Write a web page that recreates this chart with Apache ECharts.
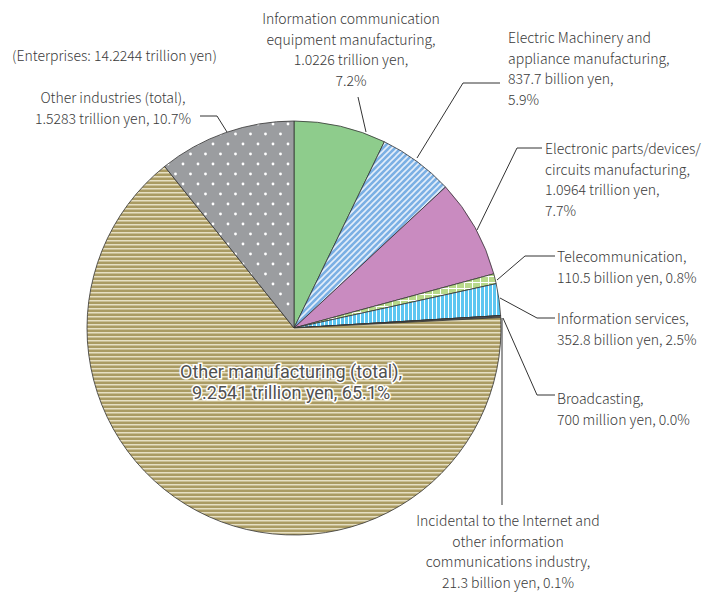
<!DOCTYPE html>
<html><head><meta charset="utf-8">
<script src="https://cdn.jsdelivr.net/npm/echarts@6/dist/echarts.min.js"></script>
<style>html,body{margin:0;padding:0;background:#fff}#c{width:707px;height:594px}</style>
</head><body><div id="c"></div>
<script>
// ---- data (billion yen) ----
const categories = [
  'Information communication equipment manufacturing',
  'Electric Machinery and appliance manufacturing',
  'Electronic parts/devices/circuits manufacturing',
  'Telecommunication',
  'Information services',
  'Broadcasting',
  'Incidental to the Internet and other information communications industry',
  'Other manufacturing (total)',
  'Other industries (total)'
];
const values = [1022.6, 837.7, 1096.4, 110.5, 352.8, 0.7, 21.3, 9254.1, 1528.3];
const labelTexts = [
  'Information communication\nequipment manufacturing,\n1.0226 trillion yen,\n7.2%',
  'Electric Machinery and\nappliance manufacturing,\n837.7 billion yen,\n5.9%',
  'Electronic parts/devices/\ncircuits manufacturing,\n1.0964 trillion yen,\n7.7%',
  'Telecommunication,\n110.5 billion yen, 0.8%',
  'Information services,\n352.8 billion yen, 2.5%',
  'Broadcasting,\n700 million yen, 0.0%',
  'Incidental to the Internet and\nother information\ncommunications industry,\n21.3 billion yen, 0.1%',
  'Other manufacturing (total),\n9.2541 trillion yen, 65.1%',
  'Other industries (total),\n1.5283 trillion yen, 10.7%'
];
const totalText = '(Enterprises: 14.2244 trillion yen)';

// ---- layout / style ----
const FONT = '"Noto Sans CJK JP", "Noto Sans", sans-serif';
const labelPos = [
  [351, 8, 'center'], [508, 27, 'left'], [545, 138, 'left'], [557, 246, 'left'],
  [557, 308, 'left'], [557, 388, 'left'], [508, 510, 'center'], [291, 361, 'center'], [113, 87, 'center']
];
const leaders = [
  [[358,97],[366,132]],
  [[500,83],[463,83],[417,158]],
  [[542,148],[517,148],[477,230]],
  [[555,256],[525,256],[497,280]],
  [[500,298],[537,318],[555,318]],
  [[503,318],[537,395],[555,395]],
  [[502,318],[502,505]],
  [[200,116],[217,116],[227,132]]
];

function pat(w, h, bg, draw) {
  const c = document.createElement('canvas');
  c.width = w; c.height = h;
  const g = c.getContext('2d');
  g.fillStyle = bg; g.fillRect(0, 0, w, h);
  draw(g);
  return { image: c.toDataURL(), repeat: 'repeat', imageWidth: w, imageHeight: h };
}
const fills = [
  '#8ECC8C',
  pat(6, 6, '#7BB0E4', g => { g.strokeStyle = '#E4EEFA'; g.lineWidth = 1.6; g.beginPath(); g.moveTo(-1,7); g.lineTo(7,-1); g.moveTo(-1,1); g.lineTo(1,-1); g.moveTo(5,7); g.lineTo(7,5); g.stroke(); }),
  '#C98BC0',
  pat(8, 6, '#B8D98B', g => { g.fillStyle = '#fff'; g.fillRect(0,0,8,1); g.fillRect(0,0,1,6); }),
  pat(4, 4, '#5DC6F1', g => { g.fillStyle = '#fff'; g.fillRect(0,0,1,4); }),
  '#333333',
  '#555555',
  pat(4, 4, '#AA9B63', g => { g.fillStyle = '#E6DFC3'; g.fillRect(0,0,4,1.5); }),
  pat(15, 20, '#9B9DA0', g => { g.fillStyle = '#fff'; g.beginPath(); g.arc(3,4,1.4,0,7); g.fill(); g.beginPath(); g.arc(10.5,14,1.4,0,7); g.fill(); })
];

const chart = echarts.init(document.getElementById('c'), null, { renderer: 'svg' });
chart.setOption({
  animation: false,
  graphic: [
    { type: 'text', left: 12, top: 48, style: { text: totalText, font: '300 14px ' + FONT, fill: '#3a3a3a' } }
  ].concat(leaders.map(pts => ({
    type: 'polyline', z: 10, shape: { points: pts }, style: { stroke: '#333', lineWidth: 1, fill: null }
  }))),
  series: [{
    type: 'pie',
    center: [294, 328],
    radius: 207,
    startAngle: 90,
    clockwise: true,
    avoidLabelOverlap: false,
    minAngle: 0,
    itemStyle: { borderColor: '#333', borderWidth: 0.8 },
    labelLine: { show: false },
    label: {
      show: true,
      formatter: p => labelTexts[p.dataIndex],
      fontFamily: FONT, fontWeight: 300, fontSize: 14, lineHeight: 20.5, color: '#3a3a3a'
    },
    labelLayout: p => {
      const lp = labelPos[p.dataIndex];
      return { x: lp[0], y: lp[1], align: lp[2], verticalAlign: 'top' };
    },
    data: categories.map((name, i) => {
      const d = { name, value: values[i], itemStyle: { color: fills[i] } };
      if (i === 7) d.label = { fontFamily: 'Roboto, "Liberation Sans", sans-serif', fontSize: 18, fontWeight: 'normal', lineHeight: 21.2, color: '#505050', textBorderColor: '#fff', textBorderWidth: 3 };
      return d;
    })
  }]
});
</script></body></html>
